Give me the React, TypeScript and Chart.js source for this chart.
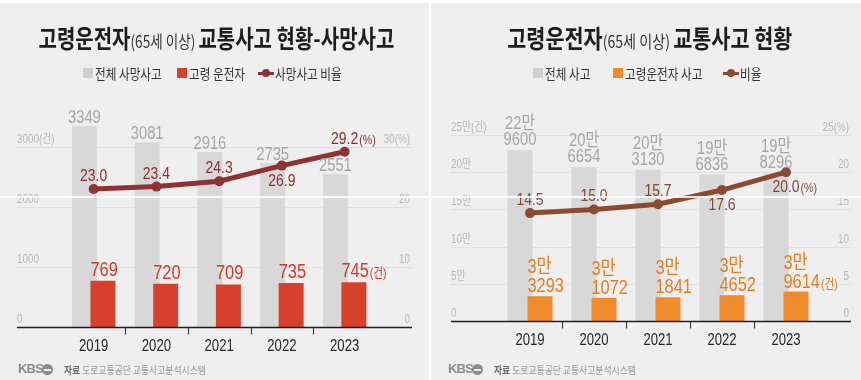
import React, { useEffect, useRef } from 'react';
import { Chart, registerables } from 'chart.js';

Chart.register(...registerables);

// ---------- data ----------
const years = ['2019', '2020', '2021', '2022', '2023'];

// left panel: fatal accidents
const totalDeaths = [3349, 3081, 2916, 2735, 2551];
const elderlyDeaths = [769, 720, 709, 735, 745];
const deathRatio = [23.0, 23.4, 24.3, 26.9, 29.2];
const deathTicks = [0, 1000, 2000, 3000];
const deathTickLabels = ['0', '1000', '2000', '3000(건)'];
const deathRatioTicks = [0, 10, 20, 30];
const deathRatioTickLabels = ['0', '10', '20', '30(%)'];

// right panel: all accidents
const totalAccidents = [229600, 206654, 203130, 196836, 198296];
const elderlyAccidents = [33293, 31072, 31841, 34652, 39614];
const accidentRatio = [14.5, 15.0, 15.7, 17.6, 20.0];
const accidentTicks = [0, 50000, 100000, 150000, 200000, 250000];
const accidentTickLabels = ['0', '5만', '10만', '15만', '20만', '25만(건)'];
const accidentRatioTicks = [0, 5, 10, 15, 20, 25];
const accidentRatioTickLabels = ['0', '5', '10', '15', '20', '25(%)'];

const SANS = '"Liberation Sans", "Noto Sans CJK KR", sans-serif';
const KR = '"Noto Sans CJK KR", sans-serif';
const SX = 0.82; // condensed look for digits

type PanelCfg = {
  total: number[];
  elderly: number[];
  ratio: number[];
  ticks: number[];
  tickLabels: string[];
  rTicks: number[];
  rTickLabels: string[];
  yMax: number;
  y1Max: number;
  padding: { left: number; right: number; top: number; bottom: number };
  gridX0: number;
  gridX1: number;
  catPct: number;
  barPct: number;
  barColor: string;
  barLabelColor: string;
  lineColor: string;
  lineLabelColor: string;
  below: boolean[];
  manFormat: boolean;
  barFont: number;
};

function splitMan(v: number): [string, string] {
  return [`${Math.floor(v / 10000)}만`, String(v % 10000).padStart(4, '0')];
}

function fillN(ctx: CanvasRenderingContext2D, text: string, x: number, y: number, align: CanvasTextAlign) {
  ctx.save();
  ctx.translate(x, y);
  ctx.scale(SX, 1);
  ctx.textAlign = align;
  ctx.fillText(text, 0, 0);
  ctx.restore();
}

function drawWithSuffix(
  ctx: CanvasRenderingContext2D,
  main: string,
  suffix: string,
  x: number,
  y: number,
  align: 'left' | 'center',
  mainFont: string,
  sufFont: string
) {
  ctx.font = mainFont;
  const w = ctx.measureText(main).width * SX;
  const x0 = align === 'center' ? x - w / 2 : x;
  fillN(ctx, main, x0, y, 'left');
  if (suffix) {
    ctx.font = sufFont;
    fillN(ctx, suffix, x0 + w + 1, y, 'left');
  }
}

function makeChart(canvas: HTMLCanvasElement, cfg: PanelCfg) {
  const decor = {
    id: 'decor',
    beforeDatasetsDraw(chart: any) {
      const { ctx } = chart;
      const y = chart.scales.y;
      const y1 = chart.scales.y1;
      ctx.save();
      ctx.strokeStyle = '#e0e0e0';
      ctx.lineWidth = 1;
      cfg.ticks.forEach((v) => {
        if (v === 0) return;
        const py = Math.round(y.getPixelForValue(v)) + 0.5;
        ctx.beginPath();
        ctx.moveTo(cfg.gridX0, py);
        ctx.lineTo(cfg.gridX1, py);
        ctx.stroke();
      });
      ctx.fillStyle = '#b9b9b9';
      ctx.font = `12px ${SANS}`;
      ctx.textBaseline = 'alphabetic';
      cfg.ticks.forEach((v, i) => {
        fillN(ctx, cfg.tickLabels[i], cfg.gridX0, y.getPixelForValue(v) - 4, 'left');
      });
      cfg.rTicks.forEach((v, i) => {
        fillN(ctx, cfg.rTickLabels[i], cfg.gridX1 - 2, y1.getPixelForValue(v) - 4, 'right');
      });
      ctx.restore();
    },
    beforeDatasetDraw(chart: any, args: any) {
      if (args.index === 1) return false;
    },
    afterDatasetDraw(chart: any, args: any) {
      if (args.index === 0) chart.getDatasetMeta(1).controller.draw();
    },
    afterDatasetsDraw(chart: any) {
      const { ctx } = chart;
      const x = chart.scales.x;
      const y = chart.scales.y;
      const axisY = Math.round(y.getPixelForValue(0)) + 0.5;
      ctx.save();
      // axis line
      ctx.strokeStyle = '#1e1e1e';
      ctx.lineWidth = 1.5;
      ctx.beginPath();
      ctx.moveTo(cfg.gridX0, axisY);
      ctx.lineTo(cfg.gridX1, axisY);
      ctx.stroke();
      // ticks between categories
      ctx.strokeStyle = '#444';
      ctx.lineWidth = 1.2;
      for (let i = 0; i < years.length - 1; i++) {
        const px = Math.round((x.getPixelForValue(i) + x.getPixelForValue(i + 1)) / 2) + 0.5;
        ctx.beginPath();
        ctx.moveTo(px, axisY);
        ctx.lineTo(px, axisY + 7);
        ctx.stroke();
      }
      // x labels
      ctx.fillStyle = '#262626';
      ctx.font = `16px ${SANS}`;
      ctx.textBaseline = 'middle';
      years.forEach((yr, i) => {
        fillN(ctx, yr, x.getPixelForValue(i), axisY + 19, 'center');
      });
      ctx.textBaseline = 'alphabetic';

      const last = years.length - 1;
      // grey labels
      const greyMeta = chart.getDatasetMeta(0);
      ctx.fillStyle = '#a6a6a6';
      ctx.font = `18px ${SANS}`;
      greyMeta.data.forEach((bar: any, i: number) => {
        const v = cfg.total[i];
        if (cfg.manFormat) {
          const [a, b] = splitMan(v);
          fillN(ctx, a, bar.x, bar.y - 5 - 16, 'center');
          fillN(ctx, b, bar.x, bar.y - 5, 'center');
        } else {
          fillN(ctx, String(v), bar.x, bar.y - 3, 'center');
        }
      });
      // coloured bar labels
      const colMeta = chart.getDatasetMeta(1);
      ctx.fillStyle = cfg.barLabelColor;
      colMeta.data.forEach((bar: any, i: number) => {
        const v = cfg.elderly[i];
        const left = bar.x - bar.width / 2;
        const mainFont = `${cfg.barFont}px ${SANS}`;
        const sufFont = `13px ${SANS}`;
        const suf = i === last ? '(건)' : '';
        if (cfg.manFormat) {
          const [a, b] = splitMan(v);
          ctx.font = mainFont;
          fillN(ctx, a, left, bar.y - 4 - 19, 'left');
          drawWithSuffix(ctx, b, suf, left, bar.y - 4, 'left', mainFont, sufFont);
        } else {
          drawWithSuffix(ctx, String(v), suf, left, bar.y - 5, 'left', mainFont, sufFont);
        }
      });
      // line labels
      const lineMeta = chart.getDatasetMeta(2);
      ctx.fillStyle = cfg.lineLabelColor;
      lineMeta.data.forEach((pt: any, i: number) => {
        const txt = cfg.ratio[i].toFixed(1);
        const yy = cfg.below[i] ? pt.y + 20 : pt.y - 8;
        drawWithSuffix(ctx, txt, i === last ? '(%)' : '', pt.x, yy, 'center', `17px ${SANS}`, `13px ${SANS}`);
      });
      ctx.restore();
    },
  };

  return new Chart(canvas, {
    type: 'bar',
    data: {
      labels: years,
      datasets: [
        {
          type: 'bar',
          data: cfg.total,
          backgroundColor: '#d8d8d8',
          order: 1,
          yAxisID: 'y',
          categoryPercentage: cfg.catPct,
          barPercentage: cfg.barPct,
        },
        {
          type: 'bar',
          data: cfg.elderly,
          backgroundColor: cfg.barColor,
          order: 2,
          yAxisID: 'y',
          categoryPercentage: cfg.catPct,
          barPercentage: cfg.barPct,
        },
        {
          type: 'line',
          data: cfg.ratio,
          borderColor: cfg.lineColor,
          backgroundColor: cfg.lineColor,
          borderWidth: 5,
          pointRadius: 5,
          pointHoverRadius: 5,
          pointBorderWidth: 0,
          tension: 0,
          order: 0,
          yAxisID: 'y1',
        } as any,
      ],
    },
    options: {
      responsive: false,
      animation: false,
      events: [],
      layout: { padding: cfg.padding },
      plugins: {
        legend: { display: false },
        tooltip: { enabled: false },
        title: { display: false },
      },
      scales: {
        x: { display: false, offset: true },
        y: { display: false, min: 0, max: cfg.yMax },
        y1: { display: false, min: 0, max: cfg.y1Max, position: 'right' },
      },
    } as any,
    plugins: [decor as any],
  });
}

const leftCfg: PanelCfg = {
  total: totalDeaths,
  elderly: elderlyDeaths,
  ratio: deathRatio,
  ticks: deathTicks,
  tickLabels: deathTickLabels,
  rTicks: deathRatioTicks,
  rTickLabels: deathRatioTickLabels,
  yMax: 4000,
  y1Max: 40,
  padding: { left: 62.3, right: 53, top: 87, bottom: 53 },
  gridX0: 17,
  gridX1: 412,
  catPct: 0.59,
  barPct: 1.35,
  barColor: '#d8402b',
  barLabelColor: '#d33a27',
  lineColor: '#8d3333',
  lineLabelColor: '#8a3030',
  below: [false, false, false, true, false],
  manFormat: false,
  barFont: 20,
};

const rightCfg: PanelCfg = {
  total: totalAccidents,
  elderly: elderlyAccidents,
  ratio: accidentRatio,
  ticks: accidentTicks,
  tickLabels: accidentTickLabels,
  rTicks: accidentRatioTicks,
  rTickLabels: accidentRatioTickLabels,
  yMax: 300000,
  y1Max: 30,
  padding: { left: 67, right: 43, top: 97.8, bottom: 59 },
  gridX0: 20,
  gridX1: 420,
  catPct: 0.625,
  barPct: 1.25,
  barColor: '#f08a2b',
  barLabelColor: '#e57e22',
  lineColor: '#8a4b2f',
  lineLabelColor: '#7d4a36',
  below: [false, false, false, true, true],
  manFormat: true,
  barFont: 20,
};

function PanelChart({ cfg, left, width }: { cfg: PanelCfg; left: number; width: number }) {
  const ref = useRef<HTMLCanvasElement | null>(null);
  useEffect(() => {
    if (!ref.current) return;
    const c = makeChart(ref.current, cfg);
    return () => c.destroy();
  }, [cfg]);
  return (
    <canvas
      ref={ref}
      width={width}
      height={380}
      style={{ position: 'absolute', left, top: 0, width, height: 380 }}
    />
  );
}

function Square({ x, color }: { x: number; color: string }) {
  return (
    <div style={{ position: 'absolute', left: x, top: 68, width: 10, height: 10, background: color }} />
  );
}

function LineMark({ x, color }: { x: number; color: string }) {
  return (
    <div style={{ position: 'absolute', left: x, top: 68, width: 16, height: 10 }}>
      <div style={{ position: 'absolute', left: 0, top: 3.5, width: 16, height: 3, background: color }} />
      <div
        style={{ position: 'absolute', left: 4, top: 1, width: 8, height: 8, borderRadius: 4, background: color }}
      />
    </div>
  );
}

function LegendText({ x, text }: { x: number; text: string }) {
  return (
    <div
      style={{
        position: 'absolute',
        left: x,
        top: 63,
        height: 20,
        lineHeight: '20px',
        fontFamily: KR,
        fontSize: 14,
        color: '#333',
        whiteSpace: 'nowrap',
        transform: 'scaleX(0.83)',
        transformOrigin: 'left center',
      }}
    >
      {text}
    </div>
  );
}

function Title({
  left,
  width,
  main,
  sub,
  rest,
  scale,
}: {
  left: number;
  width: number;
  main: string;
  sub: string;
  rest: string;
  scale: number;
}) {
  return (
    <div
      style={{
        position: 'absolute',
        left,
        width,
        top: 20,
        height: 34,
        lineHeight: '34px',
        textAlign: 'center',
        whiteSpace: 'nowrap',
      }}
    >
      <span
        style={{
          display: 'inline-block',
          transform: `scaleX(${scale})`,
          transformOrigin: 'center center',
          fontFamily: KR,
          color: '#1d1d1d',
        }}
      >
        <span style={{ fontSize: 25, fontWeight: 700 }}>{main}</span>
        <span style={{ fontSize: 17, fontWeight: 400, color: '#333' }}>{sub}</span>
        <span style={{ fontSize: 25, fontWeight: 700 }}>{rest}</span>
      </span>
    </div>
  );
}

function Footer({ x }: { x: number }) {
  return (
    <>
      <div
        style={{
          position: 'absolute',
          left: x,
          top: 361,
          height: 16,
          lineHeight: '16px',
          fontFamily: '"Liberation Sans", sans-serif',
          fontWeight: 700,
          fontSize: 13,
          color: '#8c8c8c',
          letterSpacing: -0.8,
        }}
      >
        KBS
      </div>
      <div
        style={{
          position: 'absolute',
          left: x + 24,
          top: 364,
          width: 11,
          height: 11,
          borderRadius: 6,
          background: '#8c8c8c',
        }}
      >
        <div style={{ position: 'absolute', left: 2, top: 4.5, width: 7, height: 2, background: '#efefef' }} />
      </div>
      <div
        style={{
          position: 'absolute',
          left: x + 46,
          top: 362,
          height: 16,
          lineHeight: '16px',
          fontFamily: KR,
          fontSize: 10.5,
          color: '#9a9a9a',
          whiteSpace: 'nowrap',
          transform: 'scaleX(0.84)',
          transformOrigin: 'left center',
        }}
      >
        <b style={{ color: '#6e6e6e' }}>자료</b> 도로교통공단 교통사고분석시스템
      </div>
    </>
  );
}

export default function App() {
  return (
    <div
      style={{
        position: 'absolute',
        left: 0,
        top: 0,
        width: 861,
        height: 380,
        background: '#ffffff',
        overflow: 'hidden',
      }}
    >
      <div style={{ position: 'absolute', left: 0, top: 3, width: 429, height: 377, background: '#efefef' }} />
      <div style={{ position: 'absolute', left: 431, top: 3, width: 430, height: 377, background: '#efefef' }} />
      <PanelChart cfg={leftCfg} left={0} width={429} />
      <PanelChart cfg={rightCfg} left={431} width={430} />

      <Title left={-6} width={432} main="고령운전자" sub="(65세 이상) " rest="교통사고 현황-사망사고" scale={0.8} />
      <Title left={435} width={430} main="고령운전자" sub="(65세 이상) " rest="교통사고 현황" scale={0.83} />

      <Square x={83} color="#cfcfcf" />
      <LegendText x={95} text="전체 사망사고" />
      <Square x={177} color="#d8402b" />
      <LegendText x={189} text="고령 운전자" />
      <LineMark x={258} color="#8d3333" />
      <LegendText x={275} text="사망사고 비율" />

      <Square x={533} color="#cfcfcf" />
      <LegendText x={545} text="전체 사고" />
      <Square x={613} color="#f08a2b" />
      <LegendText x={625} text="고령운전자 사고" />
      <LineMark x={723} color="#8a4b2f" />
      <LegendText x={740} text="비율" />

      <Footer x={18} />
      <Footer x={448} />

      <div style={{ position: 'absolute', left: 0, top: 196, width: 861, height: 1.5, background: 'rgba(255,255,255,0.85)' }} />
    </div>
  );
}
